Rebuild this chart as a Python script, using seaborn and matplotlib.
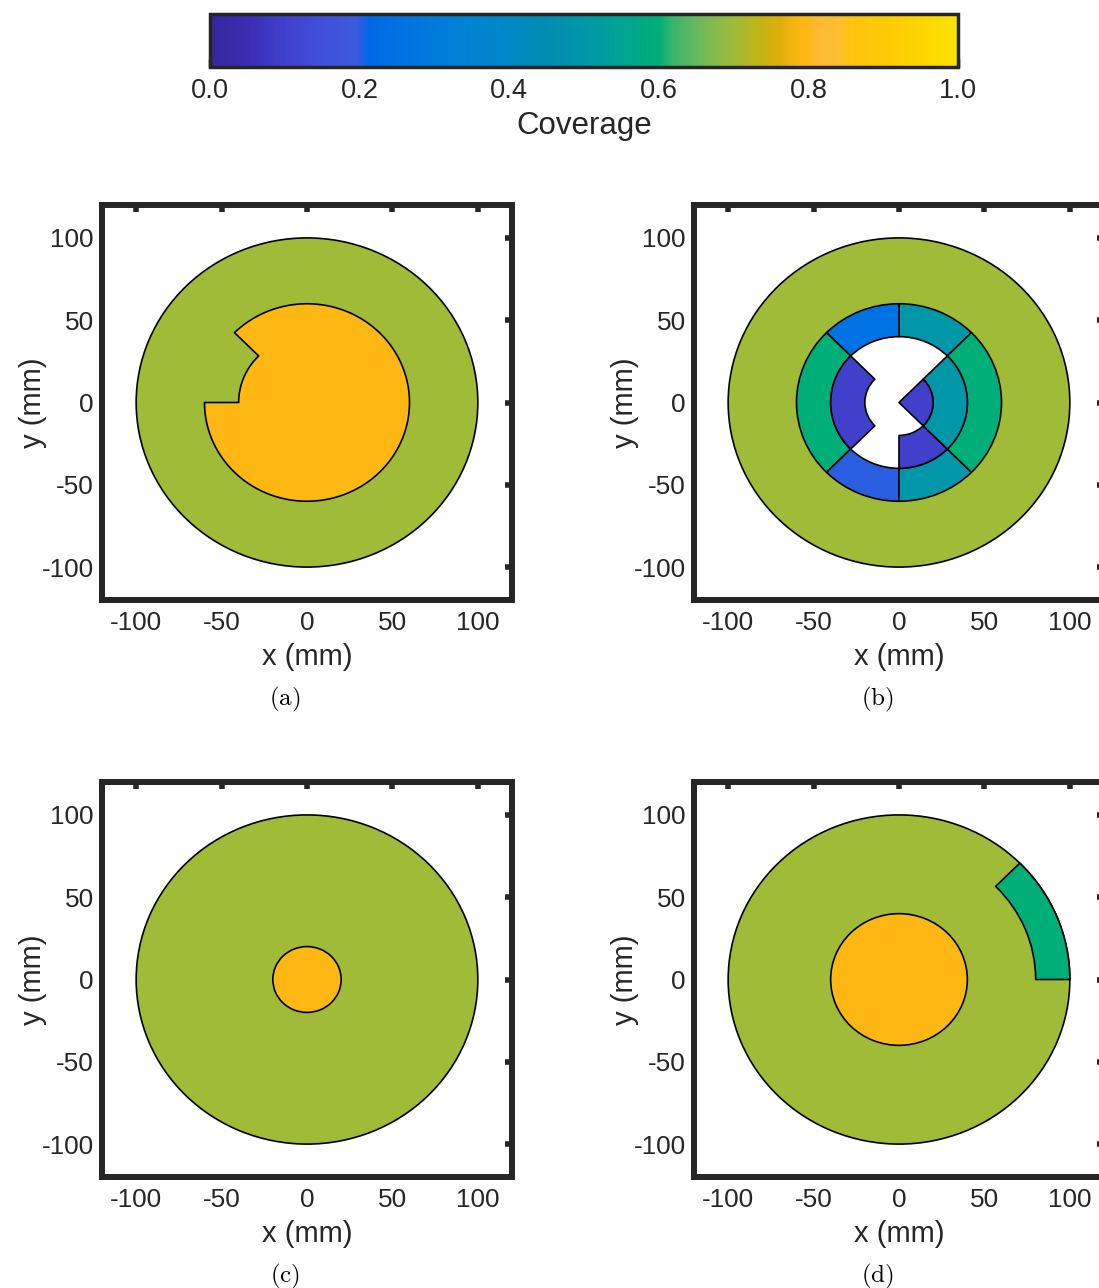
import numpy as np
import matplotlib
matplotlib.use("Agg")
import matplotlib.pyplot as plt
import seaborn as sns
from matplotlib.patches import Polygon, Wedge
from matplotlib.collections import PatchCollection
from matplotlib.colors import LinearSegmentedColormap, Normalize
from matplotlib.cm import ScalarMappable

# ---------------------------------------------------------------- data
# Coverage of the outer part of every disk (radius 100 mm)
DISK_RADIUS = 100
disk_coverage = [0.70, 0.70, 0.70, 0.70]

# (a) central region with a notch: piecewise-constant radius over angle
a_seg_start = [-180, 135]
a_seg_end = [135, 180]
a_seg_radius = [60, 40]
a_coverage = 0.79

# (b) annular sectors: inner radius, outer radius, start/end angle, coverage
b_r_in = [40, 40, 40, 40, 40, 40, 20, 20, 20, 0]
b_r_out = [60, 60, 60, 60, 60, 60, 40, 40, 40, 20]
b_theta1 = [45, 90, 135, 225, 270, 315, 135, 270, 315, -45]
b_theta2 = [90, 135, 225, 270, 315, 405, 225, 315, 405, 45]
b_coverage = [0.50, 0.25, 0.60, 0.20, 0.50, 0.60, 0.10, 0.10, 0.50, 0.10]
b_uncovered_radius = 40

# (c) small central disk
c_core_radius = 20
c_coverage = 0.79

# (d) central disk plus an outer sector
d_core_radius = 40
d_core_coverage = 0.79
d_sector_r = [80, 100]
d_sector_theta = [0, 45]
d_sector_coverage = 0.60

panel_tags = ["(a)", "(b)", "(c)", "(d)"]
axis_ticks = [-100, -50, 0, 50, 100]
cbar_ticks = [0.0, 0.2, 0.4, 0.6, 0.8, 1.0]

# colormap anchors (position, colour)
cmap_pos = [0.00, 0.05, 0.10, 0.15, 0.195, 0.20, 0.21, 0.25, 0.30, 0.35,
            0.40, 0.45, 0.50, 0.55, 0.60, 0.62, 0.66, 0.70, 0.73, 0.76,
            0.79, 0.80, 0.815, 0.84, 0.86, 0.90, 1.00]
cmap_col = ["#35279B", "#3A2EB5", "#4141CD", "#4050D8", "#3C5ADC", "#2A5EE1",
            "#0068E6", "#0072E3", "#007BDC", "#0083D3", "#0087C6", "#008CB0",
            "#0096AA", "#00A494", "#00AF78", "#3AB56C", "#74BA58", "#9DBB3A",
            "#BDB51A", "#DCAE0A", "#FEB713", "#FEB713", "#FEBA35", "#FDBE30",
            "#FEC40E", "#FEC905", "#FCE200"]

# ---------------------------------------------------------------- style
sns.set_theme(style="white")
plt.rcParams["font.family"] = ["Liberation Sans", "DejaVu Sans"]
plt.rcParams["mathtext.fontset"] = "cm"
plt.rcParams["axes.unicode_minus"] = False
DARK = "#262626"

cmap = LinearSegmentedColormap.from_list("coverage", list(zip(cmap_pos, cmap_col)), N=256)
cmap.set_bad("white")
norm = Normalize(0, 1)


def stepped_polygon(starts, ends, radii, n=120):
    pts = []
    for t1, t2, r in zip(starts, ends, radii):
        th = np.radians(np.linspace(t1, t2, n))
        pts.append(np.column_stack([r * np.cos(th), r * np.sin(th)]))
    return Polygon(np.vstack(pts), closed=True)


def sector(r_in, r_out, t1, t2):
    width = None if r_in == 0 else r_out - r_in
    return Wedge((0, 0), r_out, t1, t2, width=width)


def full_disk(r):
    return Wedge((0, 0), r, 0, 360)


def draw(ax, patches, values, edges):
    pc = PatchCollection(patches, cmap=cmap, norm=norm, linewidths=1.2,
                         edgecolors=edges)
    pc.set_array(np.ma.masked_invalid(np.asarray(values, dtype=float)))
    ax.add_collection(pc)


fig = plt.figure(figsize=(10.99, 12.88), dpi=100)
W, H = 1099, 1288
ax_w, ax_h = 410, 395
lefts = [102, 694, 102, 694]
tops = [205, 205, 782, 782]
axes = []
for l, t in zip(lefts, tops):
    axes.append(fig.add_axes([l / W, 1 - (t + ax_h) / H, ax_w / W, ax_h / H]))

# (a)
draw(axes[0],
     [full_disk(DISK_RADIUS), stepped_polygon(a_seg_start, a_seg_end, a_seg_radius)],
     [disk_coverage[0], a_coverage], ["black", "black"])

# (b)
b_patches = [full_disk(DISK_RADIUS), full_disk(b_uncovered_radius)]
b_vals = [disk_coverage[1], np.nan]
b_edges = ["black", "none"]
for ri, ro, t1, t2, v in zip(b_r_in, b_r_out, b_theta1, b_theta2, b_coverage):
    b_patches.append(sector(ri, ro, t1, t2))
    b_vals.append(v)
    b_edges.append("black")
draw(axes[1], b_patches, b_vals, b_edges)

# (c)
draw(axes[2], [full_disk(DISK_RADIUS), full_disk(c_core_radius)],
     [disk_coverage[2], c_coverage], ["black", "black"])

# (d)
draw(axes[3],
     [full_disk(DISK_RADIUS), full_disk(d_core_radius),
      sector(d_sector_r[0], d_sector_r[1], d_sector_theta[0], d_sector_theta[1])],
     [disk_coverage[3], d_core_coverage, d_sector_coverage],
     ["black", "black", "black"])

for ax, tag, l, t in zip(axes, panel_tags, lefts, tops):
    ax.set_xlim(-120, 120)
    ax.set_ylim(-120, 120)
    ax.set_xticks(axis_ticks)
    ax.set_yticks(axis_ticks)
    ax.tick_params(direction="in", top=True, right=True, length=5, width=4,
                   labelsize=18.8, color=DARK, labelcolor=DARK)
    ax.tick_params(axis="x", pad=8)
    ax.tick_params(axis="y", pad=6)
    for sp in ax.spines.values():
        sp.set_linewidth(4.3)
        sp.set_color(DARK)
    ax.set_xlabel("x (mm)", fontsize=21, color=DARK, va="center")
    ax.set_ylabel("y (mm)", fontsize=21, color=DARK, va="center")
    ax.xaxis.set_label_coords(0.5, -0.144)
    ax.yaxis.set_label_coords(-0.168, 0.5)
    ax.grid(False)
    fig.text((l + 183) / W, 1 - (t + 494) / H, r"$\mathrm{" + tag + "}$",
             ha="center", va="center", fontsize=18, color="black")

# colour bar
cax = fig.add_axes([210 / W, 1 - 67 / H, 748 / W, 53 / H])
sm = ScalarMappable(norm=norm, cmap=cmap)
cb = fig.colorbar(sm, cax=cax, orientation="horizontal", ticks=cbar_ticks)
cb.ax.set_xticklabels([f"{v:.1f}" for v in cbar_ticks])
cb.ax.tick_params(direction="in", length=6, width=2.5, labelsize=19.6,
                  color=DARK, labelcolor=DARK, pad=8)
cb.outline.set_linewidth(2.5)
cb.outline.set_edgecolor(DARK)
cb.set_label("Coverage", fontsize=22.5, color=DARK, va="center")
cax.xaxis.set_label_coords(0.5, -1.11)

fig.savefig("out.png", dpi=100)
